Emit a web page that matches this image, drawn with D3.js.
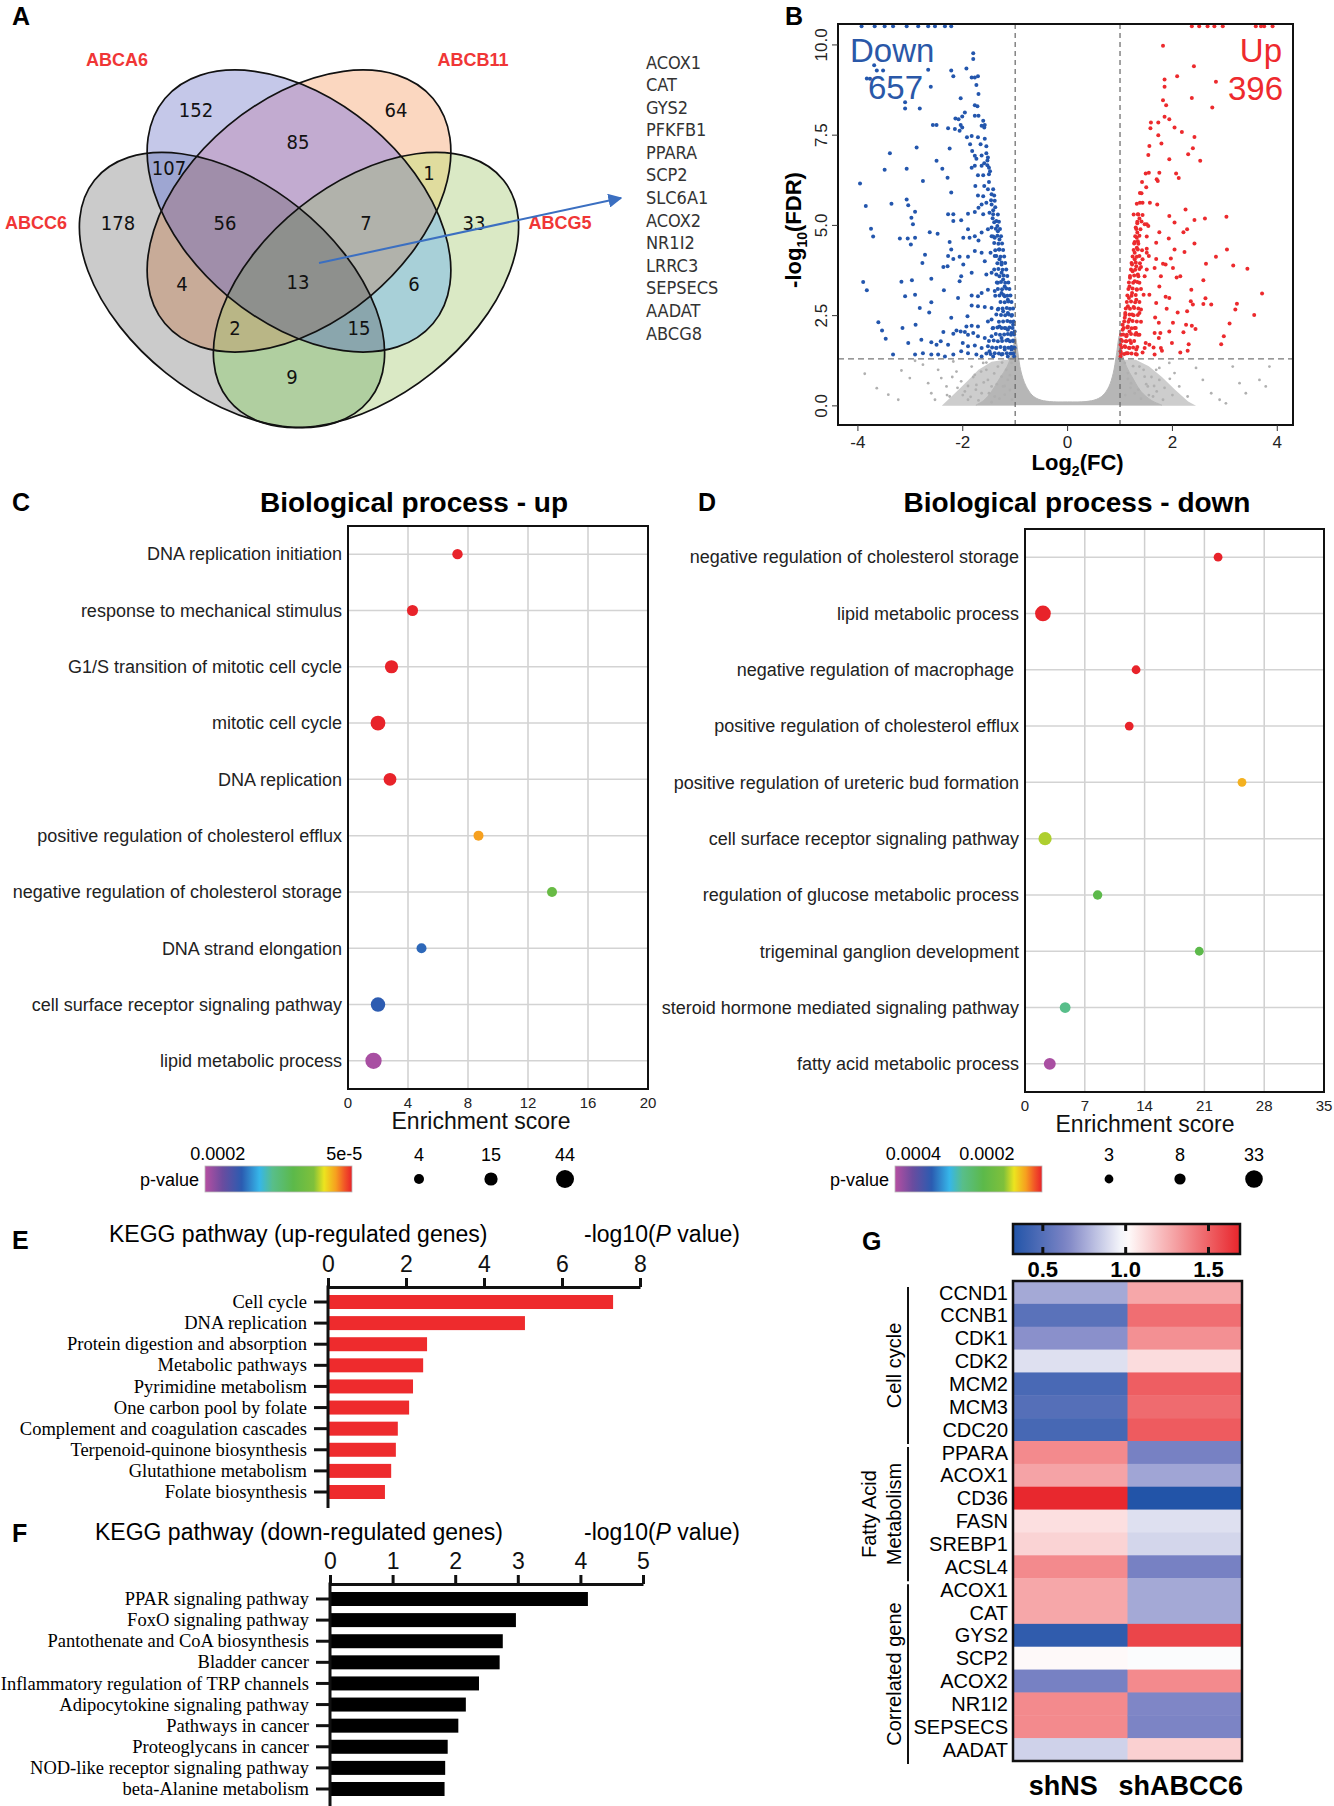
<!DOCTYPE html>
<html>
<head>
<meta charset="utf-8">
<script src="https://d3js.org/d3.v7.min.js"></script>
<style>
body { margin: 0; background: #fff; }
text { font-family: "Liberation Sans", Arial, sans-serif; }
</style>
</head>
<body>
<div id="fig"></div>
<script>

// ---------------- data ----------------

// A: venn
var vennSets   = ["ABCC6", "ABCG5", "ABCA6", "ABCB11"];
var vennCounts = [152, 64, 85, 107, 1, 178, 56, 7, 33, 4, 13, 6, 2, 15, 9];
// which sets each count belongs to (0 ABCC6, 1 ABCG5, 2 ABCA6, 3 ABCB11)
var vennRegions = [[2], [3], [2,3], [2,0], [3,1], [0], [2,3,0], [2,3,1], [1], [3,0],
                   [0,1,2,3], [2,1], [3,0,1], [2,0,1], [0,1]];
var sharedGenes = ["ACOX1", "CAT", "GYS2", "PFKFB1", "PPARA", "SCP2", "SLC6A1",
                   "ACOX2", "NR1I2", "LRRC3", "SEPSECS", "AADAT", "ABCG8"];

// B: volcano  [log2FC, -log10 FDR]
var downCount = 657, upCount = 396;
var downPts = [
 [-3.93,10.52],[-3.68,10.52],[-3.49,10.52],[-3.33,10.52],[-3.07,10.52],[-2.85,10.52],[-2.66,10.52],[-2.53,10.52],[-2.34,10.52],[-2.22,10.52],
 [-1.80,9.77],[-1.80,9.61],[-3.69,9.44],[-3.64,9.29],[-3.52,9.29],[-3.83,9.07],[-3.77,9.06],[-2.66,9.31],[-2.22,9.29],[-2.18,9.13],
 [-1.93,9.35],[-1.83,9.10],[-1.77,9.10],[-1.71,9.13],[-2.61,8.84],[-2.04,8.52],[-1.74,8.89],[-1.70,8.64],[-3.10,8.41],[-3.10,8.24],
 [-2.82,8.24],[-1.77,8.33],[-1.72,8.30],[-1.96,8.13],[-2.14,7.96],[-2.08,7.94],[-2.01,8.02],[-1.77,8.04],[-1.70,8.04],[-1.61,7.90],
 [-1.58,7.78],[-2.57,7.78],[-2.50,7.78],[-2.28,7.69],[-2.15,7.67],[-2.04,7.78],[-2.01,7.71],[-1.64,7.76],[-1.59,7.71],[-1.92,7.44],
 [-1.83,7.48],[-1.71,7.44],[-2.06,7.62],[-1.86,7.25],[-1.66,7.25],[-1.55,7.19],[-2.88,7.16],[-2.25,7.13],[-3.39,7.00],[-1.82,7.06],
 [-1.77,6.93],[-1.74,6.85],[-1.64,6.94],[-1.52,6.88],[-1.59,6.72],[-1.53,6.67],[-2.50,6.79],[-2.39,6.57],[-3.49,6.54],[-3.07,6.57],
 [-1.83,6.60],[-1.77,6.65],[-1.64,6.65],[-1.50,6.60],[-1.71,6.39],[-1.61,6.39],[-1.50,6.42],[-2.76,6.23],[-2.29,6.32],[-3.96,6.16],
 [-2.22,5.91],[-1.76,6.09],[-1.59,6.09],[-1.52,6.00],[-1.45,5.86],[-1.71,5.83],[-1.61,5.81],[-1.40,5.83],[-3.85,5.54],[-3.36,5.60],
 [-3.07,5.72],[-3.04,5.56],[-1.64,5.58],[-1.55,5.63],[-1.45,5.58],[-1.39,5.68],[-2.98,5.21],[-2.95,5.03],[-2.91,5.38],[-2.28,5.31],
 [-2.18,5.31],[-2.18,5.12],[-2.03,5.14],[-1.90,5.32],[-1.77,5.37],[-1.70,5.49],[-1.61,5.31],[-1.49,5.35],[-1.42,5.42],[-3.75,4.91],
 [-3.71,4.69],[-3.20,4.64],[-3.05,4.64],[-2.91,4.66],[-2.99,4.47],[-2.63,4.81],[-2.48,4.77],[-1.90,4.89],[-1.87,4.66],[-1.77,4.70],
 [-1.64,4.80],[-1.52,4.89],[-1.45,4.94],[-1.36,5.12],[-1.34,4.98],[-1.33,4.84],[-2.25,4.54],[-2.22,4.33],[-1.99,4.66],[-1.70,4.58],
 [-1.45,4.70],[-1.39,4.66],[-1.30,4.61],[-2.72,4.19],[-2.77,3.96],[-2.28,4.15],[-2.18,4.07],[-2.06,4.13],[-1.99,3.92],[-2.29,3.87],
 [-2.37,3.85],[-1.90,4.13],[-1.77,4.29],[-1.64,4.24],[-1.58,4.01],[-1.47,4.24],[-1.39,4.15],[-1.31,4.33],[-1.30,4.06],[-1.26,3.92],
 [-1.83,3.69],[-2.03,3.59],[-2.06,3.45],[-1.55,3.64],[-1.45,3.69],[-1.36,3.64],[-1.26,3.69],[-1.23,3.50],[-1.33,3.41],[-1.20,3.31],
 [-3.90,3.43],[-3.83,3.20],[-3.17,3.44],[-2.97,3.48],[-2.60,3.52],[-2.36,3.20],[-3.10,3.04],[-2.91,3.08],[-2.60,2.87],[-2.09,2.99],
 [-1.83,3.06],[-1.71,3.04],[-1.64,3.13],[-1.52,3.22],[-1.39,3.18],[-1.26,3.13],[-1.20,3.04],[-1.14,2.94],[-1.83,2.78],[-1.71,2.76],
 [-1.58,2.74],[-1.45,2.71],[-1.33,2.67],[-1.23,2.62],[-1.14,2.57],[-1.07,2.50],[-2.82,2.71],[-2.64,2.59],[-2.22,2.44],[-1.91,2.48],
 [-1.93,2.20],[-1.83,2.22],[-1.71,2.20],[-1.52,2.34],[-1.45,2.39],[-1.42,2.16],[-1.30,2.20],[-1.20,2.16],[-1.14,2.11],[-1.07,2.02],
 [-1.04,2.25],[-1.01,2.06],[-3.61,2.32],[-3.54,2.09],[-3.47,1.86],[-3.15,2.16],[-2.90,2.25],[-2.37,2.05],[-2.18,2.00],[-2.12,2.09],
 [-2.04,2.06],[-1.96,2.05],[-1.90,1.97],[-1.80,2.02],[-1.71,1.93],[-1.58,1.88],[-1.45,1.93],[-1.26,1.88],[-1.14,1.83],[-1.04,1.81],
 [-3.04,1.74],[-2.79,1.83],[-2.60,1.76],[-2.50,1.69],[-2.42,1.79],[-2.28,1.69],[-2.00,1.74],[-1.90,1.65],[-1.77,1.67],[-1.64,1.60],
 [-1.52,1.65],[-1.36,1.60],[-1.20,1.56],[-1.07,1.56],[-1.01,1.60],[-3.33,1.42],[-2.91,1.42],[-2.76,1.46],[-2.60,1.42],[-2.47,1.42],
 [-2.34,1.37],[-2.18,1.42],[-2.03,1.51],[-1.90,1.46],[-1.74,1.42],[-1.64,1.37],[-1.49,1.51],[-1.42,1.37],[-1.26,1.42],[-1.14,1.37],
 [-1.02,1.37],[-1.58,7.40],[-1.55,7.00],[-1.53,6.80],[-1.48,6.50],[-1.50,6.20],[-1.42,6.00],[-1.46,5.70],[-1.38,5.50],[-1.43,5.20]
];
// the dense column next to the -1 cut-off
var downBand = [
 [-1.03,1.45],[-1.09,1.45],[-1.16,1.46],[-1.24,1.44],[-1.31,1.45],[-1.39,1.46],[-1.47,1.44],[-1.55,1.45],
 [-1.02,1.62],[-1.07,1.63],[-1.13,1.61],[-1.20,1.62],[-1.28,1.63],[-1.36,1.61],[-1.44,1.62],
 [-1.04,1.80],[-1.10,1.79],[-1.17,1.81],[-1.25,1.80],[-1.33,1.79],[-1.41,1.81],[-1.50,1.80],
 [-1.02,1.98],[-1.08,1.97],[-1.14,1.99],[-1.21,1.98],[-1.29,1.97],[-1.37,1.99],
 [-1.05,2.16],[-1.11,2.17],[-1.18,2.15],[-1.26,2.16],[-1.34,2.17],[-1.43,2.15],
 [-1.03,2.34],[-1.09,2.33],[-1.15,2.35],[-1.23,2.34],[-1.31,2.33],
 [-1.06,2.52],[-1.12,2.53],[-1.19,2.51],[-1.27,2.52],[-1.36,2.53],
 [-1.04,2.70],[-1.10,2.69],[-1.16,2.71],[-1.24,2.70],[-1.32,2.69],
 [-1.07,2.88],[-1.13,2.89],[-1.20,2.87],[-1.28,2.88],
 [-1.09,3.06],[-1.15,3.05],[-1.22,3.07],[-1.30,3.06],[-1.38,3.05],
 [-1.11,3.24],[-1.17,3.25],[-1.25,3.23],[-1.33,3.24],
 [-1.13,3.42],[-1.19,3.41],[-1.27,3.43],[-1.35,3.42],
 [-1.15,3.60],[-1.22,3.61],[-1.30,3.59],
 [-1.17,3.78],[-1.24,3.77],[-1.32,3.79],[-1.40,3.78],
 [-1.19,3.96],[-1.26,3.97],[-1.34,3.95],
 [-1.21,4.14],[-1.28,4.13],[-1.36,4.15],
 [-1.23,4.32],[-1.30,4.33],[-1.38,4.31],
 [-1.25,4.50],[-1.32,4.49],[-1.40,4.51],
 [-1.27,4.70],[-1.34,4.71],[-1.42,4.69],
 [-1.29,4.90],[-1.37,4.91],[-1.31,5.10],[-1.40,5.09],[-1.33,5.30],[-1.42,5.31]
];
var upPts = [
 [2.37,10.52],[2.51,10.52],[2.67,10.52],[2.80,10.52],[2.96,10.52],[3.59,10.52],[3.69,10.52],[3.75,10.52],[3.91,10.52],
 [1.82,9.98],[2.41,9.41],[2.09,9.13],[1.85,9.04],[2.83,8.98],[1.85,8.84],[2.37,8.53],[1.82,8.47],[1.88,8.33],[2.76,8.27],
 [1.85,8.01],[1.94,7.94],[1.59,7.85],[1.73,7.85],[2.04,7.71],[1.58,7.69],[2.18,7.59],[1.73,7.50],[2.42,7.45],[1.79,7.27],
 [1.56,7.20],[2.39,7.14],[2.30,6.97],[1.54,6.95],[2.53,6.79],[1.94,6.83],[1.55,6.46],[1.75,6.46],[2.07,6.44],[1.49,6.44],
 [2.12,6.31],[1.70,6.28],[1.72,6.23],[1.50,6.06],[1.41,5.89],[1.38,5.63],[1.43,5.63],[1.57,5.63],[1.71,5.58],[2.25,5.44],
 [1.34,5.31],[1.94,5.26],[1.37,5.19],[2.42,5.15],[2.62,5.19],[3.03,5.24],[2.04,5.08],[1.33,5.06],[1.47,5.03],[1.51,5.03],
 [1.54,4.98],[2.28,4.89],[2.21,4.81],[1.30,4.94],[1.33,4.80],[1.75,4.81],[1.32,4.66],[1.51,4.69],[1.34,4.56],[1.93,4.64],
 [1.28,4.54],[1.69,4.52],[2.42,4.50],[1.32,4.38],[1.51,4.35],[2.04,4.33],[2.23,4.26],[3.04,4.33],[1.28,4.24],[1.51,4.24],
 [1.37,4.15],[1.55,4.15],[1.69,4.07],[1.97,4.08],[2.83,4.13],[1.28,4.06],[1.43,4.06],[1.82,3.94],[1.87,3.92],[2.64,3.94],
 [3.16,3.89],[3.43,3.80],[1.23,3.92],[1.31,3.87],[1.40,3.85],[1.51,3.78],[1.66,3.82],[2.01,3.82],[1.24,3.73],[1.34,3.64],
 [1.47,3.59],[1.78,3.59],[2.08,3.56],[2.15,3.59],[1.19,3.55],[1.28,3.45],[1.37,3.41],[1.75,3.31],[2.59,3.48],[1.18,3.31],
 [1.32,3.22],[2.36,3.22],[1.23,3.13],[1.45,3.08],[1.56,3.08],[1.87,3.02],[1.94,2.99],[3.71,3.11],[1.17,2.99],[1.31,2.94],
 [1.69,2.85],[2.35,2.90],[2.63,2.98],[2.39,2.81],[2.59,2.82],[2.74,2.81],[3.23,2.83],[1.15,2.76],[1.26,2.74],[1.40,2.67],
 [1.89,2.69],[2.10,2.59],[2.28,2.62],[3.20,2.67],[1.10,2.57],[1.23,2.53],[1.37,2.57],[1.67,2.45],[3.56,2.52],[1.09,2.44],
 [1.18,2.39],[1.74,2.30],[2.01,2.30],[2.26,2.25],[2.37,2.22],[3.09,2.28],[1.05,2.25],[1.15,2.20],[1.28,2.16],[1.05,2.11],
 [1.18,2.06],[1.31,2.02],[1.66,2.02],[1.77,2.02],[1.94,2.06],[2.21,2.04],[2.44,2.13],[1.02,1.97],[1.12,1.93],[1.34,1.97],
 [2.98,1.93],[1.02,1.83],[1.12,1.79],[1.21,1.74],[1.74,1.88],[1.99,1.74],[2.31,1.71],[2.93,1.71],[1.01,1.69],[1.09,1.65],
 [1.18,1.60],[1.49,1.74],[1.56,1.69],[1.64,1.62],[1.47,1.60],[1.78,1.60],[1.80,1.53],[1.31,1.56],[1.01,1.51],[1.12,1.46],
 [1.32,1.42],[2.15,1.48],[2.29,1.53],[1.43,1.48],[1.66,1.42],[1.01,1.37],
 [1.26,5.30],[1.32,5.60],[1.38,5.90],[1.42,6.20]
];
// the dense column next to the +1 cut-off
var upBand = [
 [1.02,1.45],[1.08,1.44],[1.15,1.46],[1.22,1.45],[1.30,1.44],
 [1.03,1.62],[1.10,1.63],[1.17,1.61],[1.25,1.62],[1.33,1.63],
 [1.04,1.80],[1.11,1.79],[1.19,1.81],[1.27,1.80],
 [1.06,1.98],[1.13,1.97],[1.21,1.99],[1.29,1.98],[1.37,1.97],
 [1.07,2.16],[1.14,2.17],[1.22,2.15],[1.30,2.16],
 [1.08,2.34],[1.16,2.33],[1.24,2.35],[1.32,2.34],[1.40,2.33],
 [1.10,2.52],[1.18,2.53],[1.26,2.51],[1.34,2.52],
 [1.11,2.70],[1.19,2.69],[1.27,2.71],[1.35,2.70],
 [1.13,2.88],[1.21,2.89],[1.29,2.87],[1.37,2.88],
 [1.14,3.06],[1.22,3.05],[1.30,3.07],
 [1.16,3.24],[1.24,3.25],[1.32,3.23],[1.40,3.24],
 [1.17,3.42],[1.25,3.41],[1.33,3.43],
 [1.19,3.60],[1.27,3.61],[1.35,3.59],
 [1.21,3.78],[1.29,3.77],[1.37,3.79],
 [1.22,3.96],[1.30,3.97],[1.38,3.95],
 [1.24,4.14],[1.32,4.13],
 [1.26,4.32],[1.34,4.33],[1.42,4.31],
 [1.27,4.50],[1.35,4.49],[1.29,4.70],[1.37,4.71],
 [1.31,4.90],[1.39,4.89],[1.33,5.10],[1.41,5.11],[1.35,5.30],[1.43,5.29]
];
var nsPts = [
 [-3.87,0.89],[-3.64,0.49],[-3.42,0.31],[-3.23,0.17],[-3.17,0.98],[-3.01,0.77],[-2.91,1.25],[-2.76,1.14],[-2.66,0.63],[-2.60,0.35],
 [-2.53,0.17],[-2.47,1.00],[-2.41,0.77],[-2.31,0.54],[-2.25,0.26],[-2.18,1.23],[-2.12,0.95],[-2.03,0.68],[-1.96,0.40],[-1.90,0.17],
 [-1.83,1.09],[-1.77,0.86],[-1.74,0.58],[-1.64,0.35],[-1.61,1.19],[-1.55,1.00],[-1.52,0.72],[-1.45,0.54],[-1.39,0.26],[-1.33,1.09],
 [-1.26,0.81],[-1.23,0.54],[-1.20,0.31],[-1.17,1.00],[-1.14,0.72],[-1.10,0.44],[-1.07,1.19],[-1.06,0.17],
 [-1.10,0.85],[-1.20,0.55],[-1.30,0.20],[-1.40,0.90],[-1.50,0.35],[-1.60,0.65],[-1.70,0.15],[-1.80,0.80],[-1.90,0.55],[-2.00,0.30],
 [-1.25,1.20],[-1.35,0.60],[-1.45,0.10],[-1.55,1.20],[-1.65,0.95],[-1.75,0.45],[-1.85,0.25],[-2.10,0.50],[-2.20,0.80],[-2.30,0.30],
 [1.09,1.19],[1.15,0.91],[1.21,0.63],[1.28,0.35],[1.37,1.09],[1.47,0.81],[1.53,0.54],[1.63,0.26],[1.69,1.00],[1.75,0.72],
 [1.82,0.17],[1.94,1.19],[2.04,0.91],[2.13,0.54],[2.29,0.26],[2.45,1.05],[2.58,0.72],[2.74,0.35],[2.90,0.17],[3.15,1.09],
 [3.28,0.63],[3.40,0.35],[3.66,0.72],[3.85,1.09],[3.02,0.07],[3.78,0.54],
 [1.10,0.30],[1.20,0.50],[1.30,0.90],[1.40,0.20],[1.50,0.60],[1.60,0.80],[1.70,0.40],[1.15,0.75],[1.25,1.10],[1.35,0.45],
 [1.45,1.00],[1.55,0.30],[1.65,0.55],[1.75,1.05],[1.85,0.50],[1.95,0.75],[2.00,0.30]
];
// outline of the solid grey spike around zero
var nsCloud = [
 [-1.75,0.02],[-1.6,0.15],[-1.45,0.4],[-1.3,0.75],[-1.15,1.1],[-1.05,1.5],[-1.0,1.92],[-0.95,1.5],[-0.91,1.09],[-0.85,0.75],
 [-0.79,0.54],[-0.68,0.3],[-0.55,0.18],[-0.35,0.12],[0,0.11],[0.35,0.12],[0.55,0.18],[0.68,0.3],[0.79,0.54],[0.87,0.9],
 [0.93,1.4],[0.99,1.95],[1.03,1.5],[1.12,1.1],[1.25,0.75],[1.4,0.4],[1.6,0.15],[1.8,0.02]
];
// outlines of the speckled grey areas below the FDR cut-off
var nsHaloLeft  = [[-2.4,0.0],[-2.15,0.35],[-1.9,0.7],[-1.7,1.0],[-1.45,1.22],[-1.2,1.28],[-1.0,1.28],[-1.0,0.0]];
var nsHaloRight = [[1.0,0.0],[1.0,1.28],[1.3,1.28],[1.55,1.1],[1.8,0.8],[2.05,0.45],[2.3,0.12],[2.45,0.0]];

// C: biological process - up
var upTerms = ["DNA replication initiation", "response to mechanical stimulus",
  "G1/S transition of mitotic cell cycle", "mitotic cell cycle", "DNA replication",
  "positive regulation of cholesterol efflux", "negative regulation of cholesterol storage",
  "DNA strand elongation", "cell surface receptor signaling pathway", "lipid metabolic process"];
var upScore  = [7.3, 4.3, 2.9, 2.0, 2.8, 8.7, 13.6, 4.9, 2.0, 1.7];
var upGenes  = [5, 7, 15, 23, 13, 4, 4, 4, 21, 32];
var upP      = [4.2e-5, 4.5e-5, 3.8e-5, 3.0e-5, 4.0e-5, 6.65e-5, 1.03e-4, 1.6e-4, 1.63e-4, 1.97e-4];

// D: biological process - down
var dnTerms = ["negative regulation of cholesterol storage", "lipid metabolic process",
  "negative regulation of macrophage\u00a0", "positive regulation of cholesterol efflux",
  "positive regulation of ureteric bud formation", "cell surface receptor signaling pathway",
  "regulation of glucose metabolic process", "trigeminal ganglion development",
  "steroid hormone mediated signaling pathway", "fatty acid metabolic process"];
var dnScore  = [22.6, 2.1, 13.0, 12.2, 25.4, 2.35, 8.5, 20.4, 4.7, 2.9];
var dnGenes  = [3, 24, 3, 3, 3, 14, 4, 3, 7, 10];
var dnP      = [4e-5, 4e-5, 4e-5, 4e-5, 1.02e-4, 1.42e-4, 2.1e-4, 2.1e-4, 2.66e-4, 4.42e-4];

// E / F: KEGG
var keggUpTerms = ["Cell cycle", "DNA replication", "Protein digestion and absorption",
  "Metabolic pathways", "Pyrimidine metabolism", "One carbon pool by folate",
  "Complement and coagulation cascades", "Terpenoid-quinone biosynthesis",
  "Glutathione metabolism", "Folate biosynthesis"];
var keggUpVal = [7.31, 5.05, 2.54, 2.44, 2.18, 2.08, 1.79, 1.74, 1.62, 1.46];
var keggDnTerms = ["PPAR signaling pathway", "FoxO signaling pathway",
  "Pantothenate and CoA biosynthesis", "Bladder cancer",
  "Inflammatory regulation of TRP channels", "Adipocytokine signaling pathway",
  "Pathways in cancer", "Proteoglycans in cancer",
  "NOD-like receptor signaling pathway", "beta-Alanine metabolism"];
var keggDnVal = [4.12, 2.97, 2.76, 2.71, 2.38, 2.17, 2.05, 1.88, 1.84, 1.83];

// G: heatmap
var heatGenes = ["CCND1", "CCNB1", "CDK1", "CDK2", "MCM2", "MCM3", "CDC20",
  "PPARA", "ACOX1", "CD36", "FASN", "SREBP1", "ACSL4",
  "ACOX1", "CAT", "GYS2", "SCP2", "ACOX2", "NR1I2", "SEPSECS", "AADAT"];
var heatGroups = [["Cell cycle"], ["Fatty Acid", "Metabolism"], ["Correlated gene"]];
var groupSize  = [7, 6, 8];
var heatCols   = ["shNS", "shABCC6"];
var shNS    = [0.75, 0.52, 0.68, 0.91, 0.46, 0.50, 0.45, 1.37, 1.29, 1.68, 1.10, 1.14, 1.37,
               1.28, 1.28, 0.37, 1.02, 0.62, 1.37, 1.37, 0.87];
var shABCC6 = [1.28, 1.46, 1.35, 1.11, 1.51, 1.47, 1.52, 0.62, 0.74, 0.32, 0.91, 0.88, 0.62,
               0.75, 0.75, 1.59, 0.99, 1.37, 0.65, 0.64, 1.15];
var heatTicks = [0.5, 1.0, 1.5];

// ---------------- drawing ----------------

var svg = d3.select("#fig").append("svg")
  .attr("width", 1334).attr("height", 1806)
  .style("background", "#fff");
var defs = svg.append("defs");

// panel letters
var letters = [["A", 12, 25], ["B", 785, 25], ["C", 12, 511], ["D", 698, 511],
               ["E", 12, 1249], ["F", 12, 1542], ["G", 862, 1250]];
svg.selectAll("text.letter").data(letters).join("text")
  .attr("class", "letter")
  .attr("x", d => d[1]).attr("y", d => d[2])
  .attr("font-size", 25).attr("font-weight", "bold")
  .text(d => d[0]);

// ===== A: venn =====
var narrow = "'Liberation Sans Narrow', 'DejaVu Sans Condensed', sans-serif";
var ellipses = [
  {cx: 232, cy: 290, rx: 176, ry: 106, rot: 38.6,  lx: 36,  ly: 223},
  {cx: 366, cy: 290, rx: 176, ry: 106, rot: -38.6, lx: 560, ly: 223},
  {cx: 299, cy: 211, rx: 175, ry: 111, rot: 40,    lx: 117, ly: 60},
  {cx: 299, cy: 211, rx: 175, ry: 111, rot: -40,   lx: 473, ly: 60}
];
var regionFill = ["#c5c8e9", "#fbd7c0", "#c2abd0", "#9ea6d2", "#e0dc9e", "#cbcbcb", "#a08eaa",
                  "#b1b2ab", "#dae9c5", "#c8ab98", "#8e908d", "#a8d0d8", "#b9b686", "#8aa6ad", "#b0cfa0"];
function ellipseShape(sel) {
  return sel.attr("rx", d => d.rx).attr("ry", d => d.ry)
    .attr("transform", d => "translate(" + d.cx + "," + d.cy + ") rotate(" + d.rot + ")");
}
ellipses.forEach(function (e, i) {
  defs.append("clipPath").attr("id", "vc" + i).append("ellipse").datum(e).call(ellipseShape);
});
var venn = svg.append("g");
// each region: inside its own sets, masked out of the others
vennRegions.forEach(function (sets, k) {
  var m = defs.append("mask").attr("id", "vm" + k).attr("maskUnits", "userSpaceOnUse")
    .attr("x", 0).attr("y", 0).attr("width", 640).attr("height", 480);
  m.append("rect").attr("width", 640).attr("height", 480).attr("fill", "#fff");
  ellipses.forEach(function (e, i) {
    if (sets.indexOf(i) < 0) m.append("ellipse").datum(e).call(ellipseShape).attr("fill", "#000");
  });
  var g = venn.append("g").attr("mask", "url(#vm" + k + ")");
  sets.forEach(function (s) { g = g.append("g").attr("clip-path", "url(#vc" + s + ")"); });
  g.append("rect").attr("width", 640).attr("height", 480).attr("fill", regionFill[k]);
});
venn.selectAll("ellipse.line").data(ellipses).join("ellipse")
  .attr("class", "line").call(ellipseShape)
  .attr("fill", "none").attr("stroke", "#111").attr("stroke-width", 1.7);

venn.selectAll("text.set").data(ellipses).join("text")
  .attr("class", "set")
  .attr("x", d => d.lx).attr("y", d => d.ly)
  .attr("text-anchor", "middle").attr("dominant-baseline", "central")
  .attr("fill", "#f03636").attr("font-size", 18).attr("font-weight", "bold")
  .text((d, i) => vennSets[i]);

// label spots for the 15 regions, same order as vennCounts
var vennSpots = [[196,110],[396,110],[298,142],[169,168],[429,173],[118,223],[225,223],[366,223],
                 [474,223],[182,284],[298,282],[414,284],[235,328],[359,328],[292,377]];
venn.selectAll("text.num").data(vennCounts).join("text")
  .attr("class", "num")
  .attr("x", (d, i) => vennSpots[i][0]).attr("y", (d, i) => vennSpots[i][1])
  .attr("text-anchor", "middle").attr("dominant-baseline", "central")
  .style("font-family", narrow).attr("font-size", 20).attr("fill", "#111")
  .text(d => d);

var geneY = d3.scalePoint().domain(d3.range(sharedGenes.length)).range([62, 333]);
svg.append("g").selectAll("text").data(sharedGenes).join("text")
  .attr("x", 646).attr("y", (d, i) => geneY(i))
  .attr("dominant-baseline", "central")
  .style("font-family", narrow).attr("font-size", 18).attr("fill", "#333")
  .text(d => d);

defs.append("marker").attr("id", "arrow")
  .attr("viewBox", "0 0 10 10").attr("refX", 9).attr("refY", 5)
  .attr("markerWidth", 7).attr("markerHeight", 7).attr("orient", "auto")
  .append("path").attr("d", "M0,0L10,5L0,10z").attr("fill", "#3b6fc1");
svg.append("line")
  .attr("x1", 319).attr("y1", 263).attr("x2", 621).attr("y2", 198)
  .attr("stroke", "#3b6fc1").attr("stroke-width", 2)
  .attr("marker-end", "url(#arrow)");

// ===== B: volcano =====
var vb = {left: 838, right: 1293, top: 24, bottom: 425};
var vx = d3.scaleLinear().domain([-4.38, 4.3]).range([vb.left, vb.right]);
var vy = d3.scaleLinear().domain([-0.53, 10.58]).range([vb.bottom, vb.top]);
var gB = svg.append("g");
defs.append("clipPath").attr("id", "vclip").append("rect")
  .attr("x", vb.left).attr("y", vb.top).attr("width", vb.right - vb.left).attr("height", vb.bottom - vb.top);
var plotB = gB.append("g").attr("clip-path", "url(#vclip)");
var vline = d3.line().x(d => vx(d[0])).y(d => vy(d[1]));

plotB.selectAll("path.halo").data([nsHaloLeft, nsHaloRight]).join("path").attr("class", "halo")
  .attr("d", d => vline.curve(d3.curveLinear)(d) + "Z")
  .attr("fill", "#cdcdcd");
plotB.append("path").datum(nsCloud)
  .attr("d", vline.curve(d3.curveCatmullRom))
  .attr("fill", "#b6b6b6").attr("stroke", "#b6b6b6").attr("stroke-width", 1);
plotB.selectAll("circle.ns").data(nsPts).join("circle").attr("class", "ns")
  .attr("cx", d => vx(d[0])).attr("cy", d => vy(d[1])).attr("r", 1.4).attr("fill", "#b0b0b0");
plotB.selectAll("circle.dn").data(downPts.concat(downBand)).join("circle").attr("class", "dn")
  .attr("cx", d => vx(d[0])).attr("cy", d => vy(d[1])).attr("r", 2).attr("fill", "#2356ad");
plotB.selectAll("circle.up").data(upPts.concat(upBand)).join("circle").attr("class", "up")
  .attr("cx", d => vx(d[0])).attr("cy", d => vy(d[1])).attr("r", 2).attr("fill", "#ec2a2d");

// threshold lines
[-1, 1].forEach(function (v) {
  gB.append("line").attr("x1", vx(v)).attr("x2", vx(v)).attr("y1", vb.top).attr("y2", vb.bottom)
    .attr("stroke", "#666").attr("stroke-width", 1.2).attr("stroke-dasharray", "5,4");
});
gB.append("line").attr("x1", vb.left).attr("x2", vb.right).attr("y1", vy(1.3)).attr("y2", vy(1.3))
  .attr("stroke", "#777").attr("stroke-width", 1.2).attr("stroke-dasharray", "6,4");

gB.append("rect").attr("x", vb.left).attr("y", vb.top)
  .attr("width", vb.right - vb.left).attr("height", vb.bottom - vb.top)
  .attr("fill", "none").attr("stroke", "#111").attr("stroke-width", 2);

var vxt = [-4, -2, 0, 2, 4], vyt = [0, 2.5, 5, 7.5, 10];
gB.selectAll("line.xt").data(vxt).join("line").attr("class", "xt")
  .attr("x1", d => vx(d)).attr("x2", d => vx(d)).attr("y1", vb.bottom).attr("y2", vb.bottom + 6)
  .attr("stroke", "#333");
gB.selectAll("text.xt").data(vxt).join("text").attr("class", "xt")
  .attr("x", d => vx(d)).attr("y", 448).attr("text-anchor", "middle")
  .attr("font-size", 17).attr("fill", "#222").text(d => d);
gB.selectAll("line.yt").data(vyt).join("line").attr("class", "yt")
  .attr("x1", vb.left - 6).attr("x2", vb.left).attr("y1", d => vy(d)).attr("y2", d => vy(d))
  .attr("stroke", "#333");
gB.selectAll("text.yt").data(vyt).join("text").attr("class", "yt")
  .attr("transform", d => "translate(827," + vy(d) + ") rotate(-90)")
  .attr("text-anchor", "middle")
  .attr("font-size", 17).attr("fill", "#222").text(d => d3.format(".1f")(d));

var ylab = gB.append("text").attr("transform", "translate(801,230) rotate(-90)")
  .attr("text-anchor", "middle").attr("font-size", 22).attr("font-weight", "bold");
ylab.append("tspan").text("-log");
ylab.append("tspan").attr("font-size", 14).attr("dy", 6).text("10");
ylab.append("tspan").attr("dy", -6).text("(FDR)");
var xlab = gB.append("text").attr("x", vx(0) + 10).attr("y", 470)
  .attr("text-anchor", "middle").attr("font-size", 22).attr("font-weight", "bold");
xlab.append("tspan").text("Log");
xlab.append("tspan").attr("font-size", 14).attr("dy", 6).text("2");
xlab.append("tspan").attr("dy", -6).text("(FC)");

gB.append("text").attr("x", 850).attr("y", 62).attr("font-size", 33).attr("fill", "#2a58a8").text("Down");
gB.append("text").attr("x", 868).attr("y", 99).attr("font-size", 33).attr("fill", "#2a58a8").text(downCount);
gB.append("text").attr("x", 1282).attr("y", 62).attr("text-anchor", "end").attr("font-size", 33).attr("fill", "#ee2a2e").text("Up");
gB.append("text").attr("x", 1283).attr("y", 100).attr("text-anchor", "end").attr("font-size", 33).attr("fill", "#ee2a2e").text(upCount);

// ===== C / D: enrichment dot plots =====
var gradT      = [0, 0.12, 0.25, 0.37, 0.46, 0.6, 0.74, 0.81, 0.89, 0.95, 1];
var gradColors = ["#b54fa2", "#6a4c9f", "#2b5cb1", "#36b6e9", "#58be8a", "#5cb94a",
                  "#7fc03b", "#ece41f", "#f6a01f", "#f15527", "#e8232a"];
var rainbow = d3.scaleLinear().domain(gradT).range(gradColors);
var grad = defs.append("linearGradient").attr("id", "rainbow");
grad.selectAll("stop").data(gradT).join("stop")
  .attr("offset", d => d * 100 + "%").attr("stop-color", (d, i) => gradColors[i]);

function dotPanel(cfg) {
  var g = svg.append("g");
  var x = d3.scaleLinear().domain([0, cfg.max]).range([cfg.left, cfg.right]);
  var y = d3.scalePoint().domain(cfg.terms).range([cfg.top, cfg.bottom]).padding(0.5);
  var r = d3.scaleSqrt().domain(cfg.sizeDom).range(cfg.rRange);
  var pt = d3.scaleLinear().domain(cfg.pDom).range([0, 1]).clamp(true);

  g.append("text").attr("x", cfg.titleX).attr("y", 512).attr("text-anchor", "middle")
    .attr("font-size", 28).attr("font-weight", "bold").text(cfg.title);

  g.selectAll("line.vg").data(cfg.ticks).join("line").attr("class", "vg")
    .attr("x1", d => x(d)).attr("x2", d => x(d)).attr("y1", cfg.top).attr("y2", cfg.bottom)
    .attr("stroke", "#cfcfcf").attr("stroke-width", 1.5);
  g.selectAll("line.hg").data(cfg.terms).join("line").attr("class", "hg")
    .attr("x1", cfg.left).attr("x2", cfg.right).attr("y1", d => y(d)).attr("y2", d => y(d))
    .attr("stroke", "#d3d3d3").attr("stroke-width", 1.5);
  g.append("rect").attr("x", cfg.left).attr("y", cfg.top)
    .attr("width", cfg.right - cfg.left).attr("height", cfg.bottom - cfg.top)
    .attr("fill", "none").attr("stroke", "#111").attr("stroke-width", 2);

  g.selectAll("circle.dot").data(cfg.terms).join("circle").attr("class", "dot")
    .attr("cx", (d, i) => x(cfg.score[i])).attr("cy", d => y(d))
    .attr("r", (d, i) => r(cfg.genes[i]))
    .attr("fill", (d, i) => rainbow(pt(cfg.p[i])));

  g.selectAll("text.term").data(cfg.terms).join("text").attr("class", "term")
    .attr("x", cfg.left - 6).attr("y", d => y(d)).attr("dy", "0.35em")
    .attr("text-anchor", "end").attr("font-size", 18).attr("fill", "#222")
    .text(d => d);

  g.selectAll("text.tick").data(cfg.ticks).join("text").attr("class", "tick")
    .attr("x", d => x(d)).attr("y", cfg.bottom + 19).attr("text-anchor", "middle")
    .attr("font-size", 15).attr("fill", "#222").text(d => d);
  g.append("text").attr("x", cfg.xlabX).attr("y", cfg.bottom + 40).attr("text-anchor", "middle")
    .attr("font-size", 23).attr("fill", "#111").text("Enrichment score");

  // legends
  g.append("text").attr("x", cfg.barX - 6).attr("y", 1180).attr("dy", "0.35em")
    .attr("text-anchor", "end").attr("font-size", 18).text("p-value");
  g.append("rect").attr("x", cfg.barX).attr("y", 1166).attr("width", 147).attr("height", 26)
    .attr("fill", "url(#rainbow)").attr("stroke", "#bbb").attr("stroke-width", 0.8);
  var bx = d3.scaleLinear().domain(cfg.pDom).range([cfg.barX, cfg.barX + 147]);
  g.selectAll("text.pl").data(cfg.pLabels).join("text").attr("class", "pl")
    .attr("x", (d, i) => bx(cfg.pLabelAt[i])).attr("y", 1160).attr("text-anchor", "middle")
    .attr("font-size", 18).text(d => d);
  g.selectAll("circle.sz").data(cfg.sizeLegend).join("circle").attr("class", "sz")
    .attr("cx", (d, i) => cfg.sizeX[i]).attr("cy", 1179).attr("r", d => r(d)).attr("fill", "#000");
  g.selectAll("text.sz").data(cfg.sizeLegend).join("text").attr("class", "sz")
    .attr("x", (d, i) => cfg.sizeX[i]).attr("y", 1161).attr("text-anchor", "middle")
    .attr("font-size", 18).text(d => d);
}

dotPanel({
  title: "Biological process - up", titleX: 414,
  terms: upTerms, score: upScore, genes: upGenes, p: upP,
  max: 20, ticks: [0, 4, 8, 12, 16, 20],
  left: 348, right: 648, top: 526, bottom: 1089, xlabX: 481,
  sizeDom: [4, 44], rRange: [5, 9], pDom: [2e-4, 5e-5],
  barX: 205, pLabels: ["0.0002", "5e-5"], pLabelAt: [1.87e-4, 5.8e-5],
  sizeLegend: [4, 15, 44], sizeX: [419, 491, 565]
});
dotPanel({
  title: "Biological process - down", titleX: 1077,
  terms: dnTerms, score: dnScore, genes: dnGenes, p: dnP,
  max: 35, ticks: [0, 7, 14, 21, 28, 35],
  left: 1025, right: 1324, top: 529, bottom: 1092, xlabX: 1145,
  sizeDom: [3, 33], rRange: [4.4, 8.8], pDom: [4.5e-4, 5e-5],
  barX: 895, pLabels: ["0.0004", "0.0002"], pLabelAt: [4e-4, 2e-4],
  sizeLegend: [3, 8, 33], sizeX: [1109, 1180, 1254]
});

// ===== E / F: KEGG bars =====
function keggPanel(cfg) {
  var g = svg.append("g");
  var x = d3.scaleLinear().domain([0, cfg.max]).range([cfg.x0, cfg.x1]);
  var y = d3.scalePoint().domain(cfg.terms).range([cfg.y0, cfg.y1]);

  g.append("text").attr("x", cfg.titleX).attr("y", cfg.titleY)
    .attr("font-size", 23).text(cfg.title);
  var unit = g.append("text").attr("x", 740).attr("y", cfg.titleY)
    .attr("text-anchor", "end").attr("font-size", 23);
  unit.append("tspan").text("-log10(");
  unit.append("tspan").attr("font-style", "italic").text("P");
  unit.append("tspan").text(" value)");

  g.selectAll("rect").data(cfg.terms).join("rect")
    .attr("x", x(0)).attr("y", d => y(d) - 7)
    .attr("width", (d, i) => x(cfg.vals[i]) - x(0)).attr("height", 14)
    .attr("fill", cfg.color);

  var ax = g.append("g").attr("transform", "translate(0," + cfg.axisY + ")")
    .call(d3.axisTop(x).tickValues(d3.range(0, cfg.max + 1, cfg.step))
      .tickFormat(d3.format("d"))
      .tickSize(9).tickSizeOuter(0).tickPadding(6));
  ax.attr("font-size", 23).attr("font-family", "Liberation Sans, Arial, sans-serif");
  ax.selectAll("path, line").attr("stroke", "#111").attr("stroke-width", 3);
  ax.selectAll("text").attr("fill", "#111");

  g.append("line").attr("x1", x(0)).attr("x2", x(0)).attr("y1", cfg.axisY - 1.5).attr("y2", cfg.axisEnd)
    .attr("stroke", "#111").attr("stroke-width", 3);
  g.selectAll("line.ct").data(cfg.terms).join("line").attr("class", "ct")
    .attr("x1", x(0) - 14).attr("x2", x(0)).attr("y1", d => y(d)).attr("y2", d => y(d))
    .attr("stroke", "#111").attr("stroke-width", 3);
  g.selectAll("text.ct").data(cfg.terms).join("text").attr("class", "ct")
    .attr("x", x(0) - 21).attr("y", d => y(d)).attr("dy", "0.33em")
    .attr("text-anchor", "end").attr("font-size", 18.5)
    .style("font-family", "'Liberation Serif', 'Times New Roman', serif")
    .text(d => d);
}

keggPanel({
  title: "KEGG pathway (up-regulated genes)", titleX: 109, titleY: 1242,
  terms: keggUpTerms, vals: keggUpVal, color: "#ee2b2d",
  max: 8, step: 2, x0: 328, x1: 640, axisY: 1287, axisEnd: 1508, y0: 1302, y1: 1492
});
keggPanel({
  title: "KEGG pathway (down-regulated genes)", titleX: 95, titleY: 1540,
  terms: keggDnTerms, vals: keggDnVal, color: "#000",
  max: 5, step: 1, x0: 330, x1: 643, axisY: 1584, axisEnd: 1806, y0: 1599, y1: 1789
});

// ===== G: heatmap =====
var heat = d3.scaleLinear().domain([0.32, 0.65, 1, 1.69])
  .range(["#2254a8", "#7f86c6", "#ffffff", "#e8252b"]).clamp(true);
var gG = svg.append("g");
var hx = d3.scaleBand().domain(heatCols).range([1013, 1242]);
var hy = d3.scaleBand().domain(d3.range(heatGenes.length)).range([1281, 1761]);
var heatVals = [shNS, shABCC6];

heatCols.forEach(function (c, ci) {
  gG.selectAll("rect.c" + ci).data(heatVals[ci]).join("rect").attr("class", "c" + ci)
    .attr("x", hx(c)).attr("y", (d, i) => hy(i))
    .attr("width", hx.bandwidth() + 0.5).attr("height", hy.bandwidth() + 0.5)
    .attr("fill", d => heat(d));
});
gG.append("rect").attr("x", 1013).attr("y", 1281).attr("width", 229).attr("height", 480)
  .attr("fill", "none").attr("stroke", "#111").attr("stroke-width", 2.5);

gG.selectAll("text.gene").data(heatGenes).join("text").attr("class", "gene")
  .attr("x", 1008).attr("y", (d, i) => hy(i) + hy.bandwidth() / 2).attr("dy", "0.36em")
  .attr("text-anchor", "end").attr("font-size", 20).text(d => d);

gG.selectAll("text.col").data(heatCols).join("text").attr("class", "col")
  .attr("x", d => hx(d) + hx.bandwidth() / 2 + (d === "shNS" ? -7 : -4)).attr("y", 1795)
  .attr("text-anchor", "middle").attr("font-size", 27).attr("font-weight", "bold").text(d => d);

// group brackets
var start = 0;
heatGroups.forEach(function (lines, gi) {
  var y0 = hy(start) + 6, y1 = hy(start + groupSize[gi] - 1) + hy.bandwidth() + 3;
  gG.append("line").attr("x1", 908).attr("x2", 908).attr("y1", y0).attr("y2", y1)
    .attr("stroke", "#111").attr("stroke-width", 2);
  lines.forEach(function (t, li) {
    gG.append("text")
      .attr("transform", "translate(" + (894 - (lines.length - 1 - li) * 25) + "," + (y0 + y1) / 2 + ") rotate(-90)")
      .attr("text-anchor", "middle").attr("dy", "0.35em").attr("font-size", 20).text(t);
  });
  start += groupSize[gi];
});

// colour bar
var cb = d3.scaleLinear().domain([0.32, 1.69]).range([1013, 1240]);
var hgrad = defs.append("linearGradient").attr("id", "heatgrad");
hgrad.selectAll("stop").data(d3.range(0.32, 1.7, 0.05)).join("stop")
  .attr("offset", d => (cb(d) - 1013) / 227 * 100 + "%").attr("stop-color", d => heat(d));
gG.append("rect").attr("x", 1013).attr("y", 1224).attr("width", 227).attr("height", 30)
  .attr("fill", "url(#heatgrad)").attr("stroke", "#111").attr("stroke-width", 2.5);
gG.selectAll("line.cbt").data(heatTicks.concat(heatTicks)).join("line").attr("class", "cbt")
  .attr("x1", d => cb(d)).attr("x2", d => cb(d))
  .attr("y1", (d, i) => i < 3 ? 1224 : 1247).attr("y2", (d, i) => i < 3 ? 1231 : 1254)
  .attr("stroke", "#111").attr("stroke-width", 3);
gG.selectAll("text.cbt").data(heatTicks).join("text").attr("class", "cbt")
  .attr("x", d => cb(d)).attr("y", 1277).attr("text-anchor", "middle")
  .attr("font-size", 22).attr("font-weight", "bold").text(d => d3.format(".1f")(d));

</script>
</body>
</html>
